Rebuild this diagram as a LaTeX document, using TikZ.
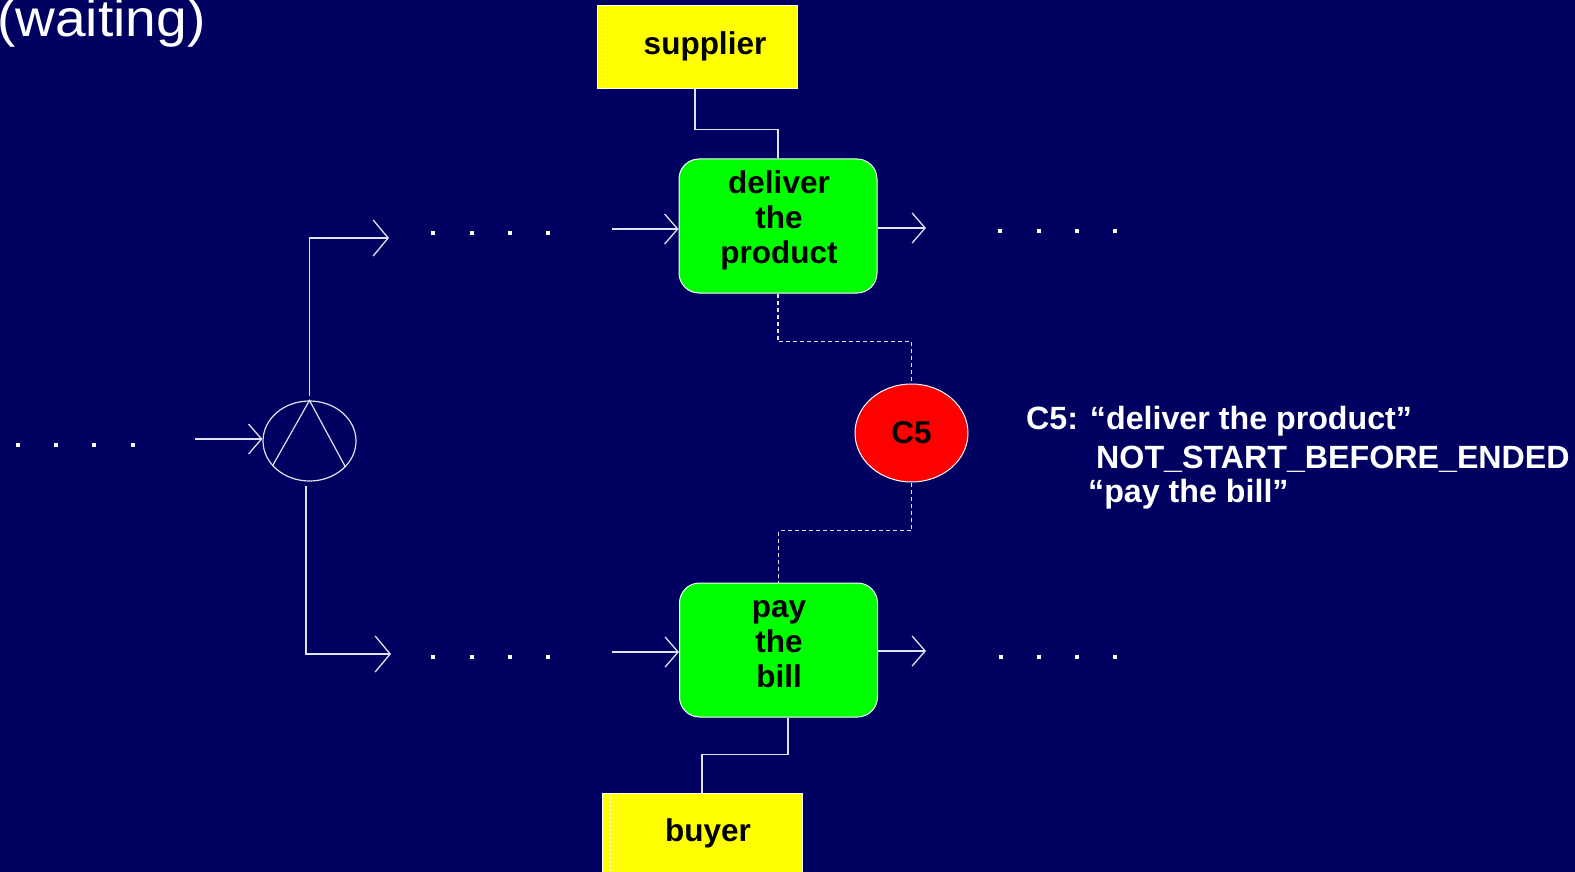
\documentclass[tikz,border=0pt]{standalone}
\usepackage{fontspec}
\setmainfont{Liberation Sans}
\usetikzlibrary{arrows.meta,shapes.geometric}
\definecolor{navy}{RGB}{0,0,96}
\definecolor{grn}{RGB}{0,255,0}
\definecolor{ylw}{RGB}{255,255,0}
\definecolor{rd}{RGB}{255,0,0}
\definecolor{lnc}{RGB}{225,225,240}
\begin{document}
\begin{tikzpicture}[x=1pt,y=-1pt,
  ln/.style={draw=lnc,line width=1.3pt},
  arrS/.style={ln,-{Straight Barb[length=13pt,width=30pt]}},
  arrB/.style={ln,-{Straight Barb[length=15pt,width=36pt]}},
  dsh/.style={ln,dash pattern=on 4pt off 3pt},
  task/.style={draw=white,line width=1pt,fill=grn,rounded corners=20pt,minimum width=198pt,minimum height=134pt,inner sep=0pt},
  role/.style={draw=white,line width=1pt,fill=ylw,minimum width=200pt,inner sep=0pt},
  lbl/.style={font=\fontsize{31.5}{35}\selectfont\bfseries,inner sep=0pt,align=center},
  wlbl/.style={font=\fontsize{32.2}{36}\selectfont\bfseries,inner sep=0pt,text=white,align=left},
  inner/.style={draw=white,line width=0.6pt,dash pattern=on 2pt off 2pt}]
\fill[navy] (0,0) rectangle (1575,872);
\useasboundingbox (0,0) rectangle (1575,872);

% roles
\node[role,minimum height=83pt] (sup) at (697,47.5) {};
\draw[inner] ([xshift=9pt]sup.north west) -- ([xshift=9pt]sup.south west);
\node[lbl,anchor=base] (supt) at (705,55) {supplier};
\node[role,minimum height=90pt] (buy) at (702,838) {};
\draw[inner] ([xshift=9pt]buy.north west) -- ([xshift=9pt]buy.south west);
\node[lbl,anchor=base] (buyt) at (708,841) {buyer};

% tasks
\node[task] (del) at (778,226) {};
\node[lbl] (delt) at (779,220) {deliver\\the\\product};
\node[task] (pay) at (778.5,650) {};
\node[lbl] (payt) at (779,644) {pay\\the\\bill};

% constraint
\node[ellipse,draw=white,line width=1pt,fill=rd,minimum width=113pt,minimum height=98pt,inner sep=0pt,font=\fontsize{31.5}{35}\selectfont\bfseries] (c5) at (911.5,433) {C5};

% AND split
\node[ellipse,draw=lnc,line width=1.2pt,minimum width=93pt,minimum height=80pt,inner sep=0pt] (and) at (309.5,441) {};
\draw[ln,line width=1.2pt] (and.214) -- (and.north) -- (and.324);

% coordinates
\coordinate (ain) at (195,439);
\coordinate (u1) at (389,238);
\coordinate (d1) at (391,654);
\coordinate (din) at (612,229);
\coordinate (dout) at (926,228);
\coordinate (pin) at (612,652);
\coordinate (pout) at (926,651);

% connectors
\draw[arrS] (ain) -- (ain -| and.west);
\draw[arrB] ([yshift=4pt]and.north) |- (u1);
\draw[arrB] ([xshift=-3.5pt,yshift=-4pt]and.south) |- (d1);
\draw[arrS] (din) -- (din -| del.west);
\draw[arrS] (dout -| del.east) -- (dout);
\draw[arrS] (pin) -- (pin -| pay.west);
\draw[arrS] (pout -| pay.east) -- (pout);
\draw[ln] ([xshift=-2pt]sup.south) -- ++(0,40) -| (del.north);
\draw[ln] ([xshift=9.5pt]pay.south) -- ++(0,37) -| (buy.north);
\draw[dsh] (del.south) -- ++(0,48) -| (c5.north);
\draw[dsh] (c5.south) -- ++(0,48) -| (pay.north);

% dots
\foreach \x in {18,56,94,133} \fill[white] (\x-2,443) rectangle ++(4,4);
\foreach \x in {433,472,510,548} \fill[white] (\x-2,231) rectangle ++(4,4);
\foreach \x in {433,472,510,548} \fill[white] (\x-2,655) rectangle ++(4,4);
\foreach \x in {1000,1039,1077,1115} \fill[white] (\x-2,229) rectangle ++(4,4);
\foreach \x in {1001,1039,1077,1115} \fill[white] (\x-2,655) rectangle ++(4,4);

% texts
\node[wlbl,anchor=base west] (c5a) at (1026,429) {C5: “deliver the product”};
\node[wlbl,anchor=base west] (c5b) at (1096,468) {NOT\_START\_BEFORE\_ENDED};
\node[wlbl,anchor=base west] (c5c) at (1088,502) {“pay the bill”};
\node[anchor=base west,inner sep=0pt,text=white,font=\fontsize{52}{56}\selectfont] (wait) at (-3,37) {\scalebox{1.06}[1]{(waiting)}};
\end{tikzpicture}
\end{document}
